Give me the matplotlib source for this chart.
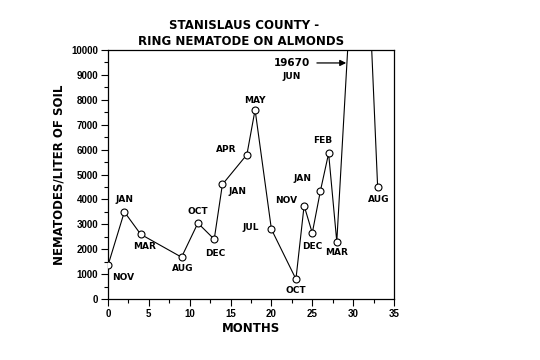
import matplotlib
matplotlib.use("Agg")
import matplotlib.pyplot as plt
from matplotlib.ticker import MultipleLocator

months = [0, 2, 4, 9, 11, 13, 14, 17, 18, 20, 23, 24, 25, 26, 27, 28, 31, 33]
values = [1350, 3500, 2600, 1680, 3050, 2400, 4600, 5800, 7600, 2800, 800, 3750, 2650, 4350, 5850, 2300, 19670, 4500]
labels = ["NOV", "JAN", "MAR", "AUG", "OCT", "DEC", "JAN", "APR", "MAY", "JUL", "OCT",
          "NOV", "DEC", "JAN", "FEB", "MAR", "JUN", "AUG"]
# label offsets (points) relative to each point
offsets = [(11, -9), (0, 9), (3, -9), (1, -8), (0, 8), (1, -10), (11, -5), (-15, 4), (0, 7),
           (-15, 1), (0, -8), (-13, 4), (0, -10), (-13, 9), (-4, 9), (0, -8), None, (1, -9)]

fig = plt.figure(figsize=(5.4, 3.6), dpi=100)
ax = fig.add_axes([0.2, 0.1694, 0.5296, 0.6917])

ax.plot(months, values, color="black", lw=0.8, marker="o", ms=5, mfc="white",
        mec="black", mew=0.8, clip_on=True, zorder=3)

ax.set_xlim(0, 35)
ax.set_ylim(0, 10000)
ax.xaxis.set_major_locator(MultipleLocator(5))
ax.xaxis.set_minor_locator(MultipleLocator(2.5))
ax.yaxis.set_major_locator(MultipleLocator(1000))
ax.yaxis.set_minor_locator(MultipleLocator(500))
ax.tick_params(axis="both", which="major", direction="out", length=5, width=0.8, pad=2)
ax.tick_params(axis="both", which="minor", direction="out", length=3, width=0.8)
for lab in ax.get_xticklabels() + ax.get_yticklabels():
    lab.set_fontfamily("Liberation Sans")
    lab.set_fontweight("bold")
    lab.set_fontsize(7)
for s in ax.spines.values():
    s.set_linewidth(0.9)

tk = dict(fontsize=6.5, fontweight="bold", family="DejaVu Sans", ha="center", va="center")
for x, y, t, off in zip(months, values, labels, offsets):
    if off is None:
        continue
    ax.annotate(t, (x, y), xytext=off, textcoords="offset points", **tk)

ax.text(22.5, 8920, "JUN", **tk)
ax.annotate("19670", xy=(29.15, 9480), xytext=(22.5, 9480),
            fontsize=7.5, fontweight="bold", ha="center", va="center",
            arrowprops=dict(arrowstyle="-|>", color="black", lw=0.9,
                            shrinkA=3, shrinkB=0, mutation_scale=9))

ax.set_xlabel("MONTHS", fontsize=8.5, fontweight="bold", labelpad=2)
ax.set_ylabel("NEMATODES/LITER OF SOIL", fontsize=8.5, fontweight="bold", labelpad=4)

fig.text(0.452, 0.93, "STANISLAUS COUNTY -", ha="center", va="center",
         fontsize=8.5, fontweight="bold")
fig.text(0.446, 0.884, "RING NEMATODE ON ALMONDS", ha="center", va="center",
         fontsize=8.5, fontweight="bold")

fig.savefig("out.png", dpi=100)
